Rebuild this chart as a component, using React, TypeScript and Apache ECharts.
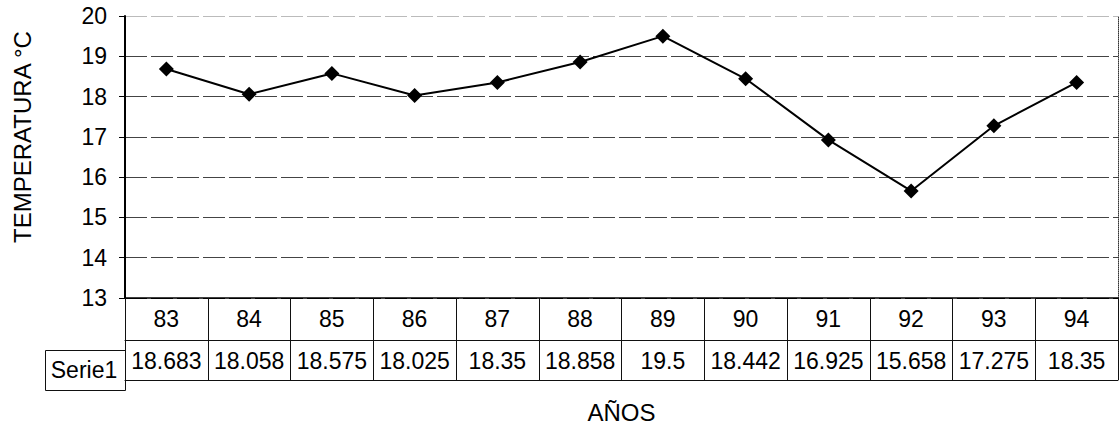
import React, { useEffect, useRef } from "react";
import * as echarts from "echarts";

const categories = ["83", "84", "85", "86", "87", "88", "89", "90", "91", "92", "93", "94"];
const serieValues = [18.683, 18.058, 18.575, 18.025, 18.35, 18.858, 19.5, 18.442, 16.925, 15.658, 17.275, 18.35];
const serieName = "Serie1";
const yMin = 13;
const yMax = 20;
const yInterval = 1;

const FONT = "Arial, 'Liberation Sans', sans-serif";

export default function App() {
  const ref = useRef<HTMLDivElement>(null);
  useEffect(() => {
    if (!ref.current) return;
    const chart = echarts.init(ref.current, null, { renderer: "svg" });
    const labelStyle = { fontSize: 23, color: "#000", fontFamily: FONT };
    chart.setOption({
      animation: false,
      backgroundColor: "#fff",
      grid: { left: 125, right: 2, top: 16, bottom: 121, containLabel: false },
      xAxis: [
        {
          type: "category",
          data: categories,
          position: "bottom",
          axisLine: { show: true, lineStyle: { color: "#000", width: 1.5 } },
          axisTick: { show: true, length: 82, alignWithLabel: false, interval: 0, lineStyle: { color: "#111", width: 1 } },
          axisLabel: { ...labelStyle, margin: 9, interval: 0 },
          splitLine: { show: false },
        },
        {
          type: "category",
          data: serieValues.map((v) => String(v)),
          position: "bottom",
          offset: 42,
          axisLine: { show: true, lineStyle: { color: "#111", width: 1 } },
          axisTick: { show: false },
          axisLabel: { ...labelStyle, margin: 9, interval: 0 },
          splitLine: { show: false },
        },
        {
          type: "category",
          data: categories,
          position: "bottom",
          offset: 82,
          axisLine: { show: true, lineStyle: { color: "#111", width: 1 } },
          axisTick: { show: false },
          axisLabel: { show: false },
          splitLine: { show: false },
          name: "AÑOS",
          nameLocation: "middle",
          nameGap: 20,
          nameTextStyle: { fontSize: 24, color: "#000", fontFamily: FONT },
        },
      ],
      yAxis: [
        {
          type: "value",
          min: yMin,
          max: yMax,
          interval: yInterval,
          axisLine: { show: true, lineStyle: { color: "#000", width: 2 } },
          axisTick: { show: true, length: 6, lineStyle: { color: "#000" } },
          axisLabel: { ...labelStyle, margin: 18 },
          splitLine: {
            show: true,
            lineStyle: {
              color: ["#000", "#444", "#444", "#444", "#444", "#444", "#444", "#bbb"],
              width: 1,
              type: [22, 4],
            },
          },
        },
        {
          type: "value",
          position: "right",
          min: yMin,
          max: yMax,
          interval: yInterval,
          axisLine: { show: true, lineStyle: { color: "#333", width: 1, type: "dotted" } },
          axisTick: { show: false },
          axisLabel: { show: false },
          splitLine: { show: false },
        },
      ],
      series: [
        {
          type: "line",
          name: serieName,
          data: serieValues,
          xAxisIndex: 0,
          yAxisIndex: 0,
          symbol: "diamond",
          symbolSize: 15,
          lineStyle: { color: "#000", width: 2 },
          itemStyle: { color: "#000" },
        },
      ],
      graphic: [
        {
          type: "text",
          x: 22,
          y: 137,
          rotation: Math.PI / 2,
          style: {
            text: "TEMPERATURA °C",
            fontSize: 24,
            fontFamily: FONT,
            fill: "#000",
            align: "center",
            verticalAlign: "middle",
          },
        },
        {
          type: "rect",
          shape: { x: 45.5, y: 350.5, width: 80, height: 40 },
          style: { fill: "none", stroke: "#111", lineWidth: 1 },
        },
        {
          type: "text",
          x: 84,
          y: 370,
          style: {
            text: serieName,
            fontSize: 23,
            fontFamily: FONT,
            fill: "#000",
            align: "center",
            verticalAlign: "middle",
          },
        },
      ],
    });
    return () => chart.dispose();
  }, []);
  return (
    <div
      ref={ref}
      style={{ position: "fixed", left: 0, top: 0, width: 1120, height: 429 }}
    />
  );
}
